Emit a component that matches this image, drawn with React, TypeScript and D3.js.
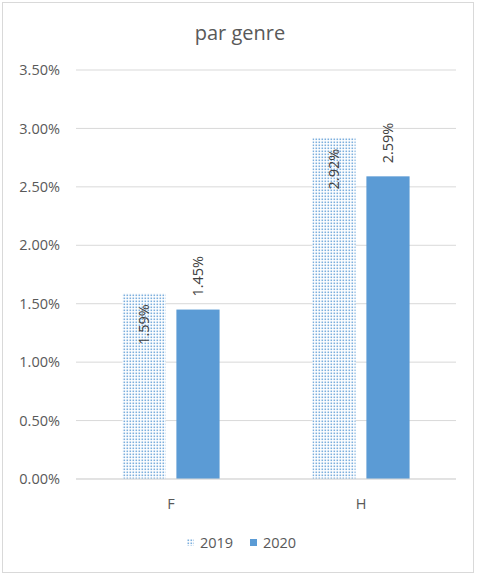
import { scaleBand, scaleLinear, format } from 'd3';

const categories = ['F', 'H'];
const seriesNames = ['2019', '2020'];
const values2019 = [0.0159, 0.0292];
const values2020 = [0.0145, 0.0259];
const yTicks = [0, 0.005, 0.01, 0.015, 0.02, 0.025, 0.03, 0.035];

const W = 481;
const H = 574;
const blue = '#5B9BD5';
const grid = '#D9D9D9';
const text = '#595959';
const font = '"Open Sans", Lato, sans-serif';
const fs = 14.5;

export default function App() {
  const x = scaleBand<string>().domain(categories).range([76, 456]);
  const inner = scaleBand<string>()
    .domain(seriesNames)
    .range([0, x.bandwidth()])
    .paddingInner(0.2)
    .paddingOuter(0.86);
  const y = scaleLinear().domain([0, 0.035]).range([479, 70]);
  const pct = format('.2%');

  const series = [
    { name: '2019', values: values2019, fill: 'url(#dots)', inside: true },
    { name: '2020', values: values2020, fill: blue, inside: false },
  ];

  return (
    <div style={{ position: 'fixed', left: 0, top: 0 }}>
      <svg width={W} height={H} style={{ display: 'block', background: '#fff' }}>
        <defs>
          <pattern id="dots" width={3} height={3} patternUnits="userSpaceOnUse">
            <rect width={3} height={3} fill="#fff" />
            <rect x={0.5} y={0.5} width={1.6} height={1.6} fill={blue} opacity={0.8} />
          </pattern>
        </defs>
        <rect x={2.5} y={2.5} width={471} height={570} fill="#fff" stroke={grid} />
        <text x={240} y={40} textAnchor="middle" fontFamily={font} fontSize={20} fill={text}>
          par genre
        </text>

        {/* gridlines and y labels */}
        {yTicks.map((t) => (
          <g key={t}>
            <line x1={76} x2={456} y1={y(t)} y2={y(t)} stroke={grid} strokeWidth={1} />
            <text
              x={60}
              y={y(t)}
              dy="0.35em"
              textAnchor="end"
              fontFamily={font}
              fontSize={fs}
              fill={text}
            >
              {pct(t)}
            </text>
          </g>
        ))}

        {/* bars */}
        {series.map((s) =>
          categories.map((c, i) => {
            const bx = (x(c) || 0) + (inner(s.name) || 0);
            const bw = inner.bandwidth();
            const top = y(s.values[i]);
            const cx = bx + bw / 2;
            const ly = s.inside ? top + 11 : top - 13;
            return (
              <g key={s.name + c}>
                <rect x={bx} y={top} width={bw} height={y(0) - top} fill={s.fill} />
                <text
                  transform={`translate(${cx},${ly}) rotate(-90)`}
                  textAnchor={s.inside ? 'end' : 'start'}
                  dy="0.35em"
                  fontFamily={font}
                  fontSize={fs}
                  fill="#404040"
                >
                  {pct(s.values[i])}
                </text>
              </g>
            );
          })
        )}

        {/* x axis */}
        <line x1={76} x2={456} y1={y(0)} y2={y(0)} stroke={grid} />
        {categories.map((c) => (
          <text
            key={c}
            x={(x(c) || 0) + x.bandwidth() / 2}
            y={509}
            textAnchor="middle"
            fontFamily={font}
            fontSize={fs}
            fill={text}
          >
            {c}
          </text>
        ))}

        {/* legend */}
        {series.map((s, i) => (
          <g key={s.name} transform={`translate(${187 + i * 63},539)`}>
            <rect width={7} height={7} fill={s.fill} />
            <text x={13} y={4} dy="0.35em" fontFamily={font} fontSize={fs} fill={text}>
              {s.name}
            </text>
          </g>
        ))}
      </svg>
    </div>
  );
}
